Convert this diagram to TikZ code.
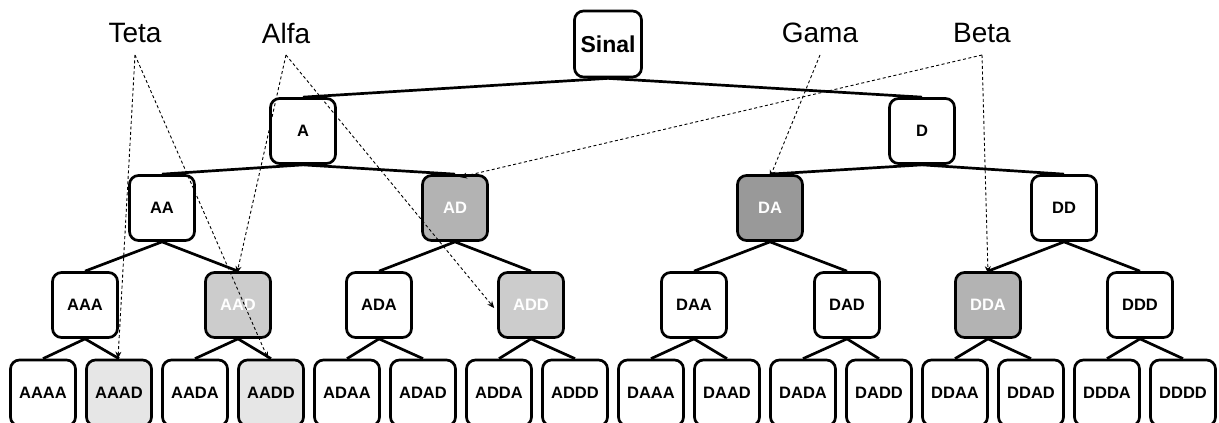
\documentclass[tikz,border=0pt]{standalone}
\usepackage{fontspec}
\setmainfont{Liberation Sans}
\usetikzlibrary{arrows.meta}
\definecolor{fillB}{HTML}{B3B3B3}
\definecolor{fillC}{HTML}{999999}
\definecolor{fillD}{HTML}{CCCCCC}
\definecolor{fillE}{HTML}{E6E6E6}
\tikzset{
  box/.style={draw=black, line width=2.7pt, rounded corners=9pt, fill=white,
    minimum width=65pt, minimum height=65pt, inner sep=0pt,
    font=\fontsize{16.5}{16.5}\selectfont\bfseries},
  leaf/.style={box, minimum height=66pt},
  dark/.style={fill=fillC, text=white},
  mid/.style={fill=fillB, text=white},
  light/.style={fill=fillD, text=white},
  pale/.style={fill=fillE},
  lab/.style={font=\fontsize{28}{28}\selectfont, inner sep=0pt},
  edge/.style={line width=2.7pt},
  pointer/.style={dashed, dash pattern=on 3pt off 2.5pt, line width=0.9pt, draw=black,
    -{Stealth[length=7pt,width=6pt]}}
}
\begin{document}
\begin{tikzpicture}[x=1pt,y=-1pt]
\useasboundingbox (0,0) rectangle (1219,423);
% labels
\node[lab] (teta) at (135,33) {Teta};
\node[lab] (alfa) at (286,33) {Alfa};
\node[lab] (gama) at (820,33) {Gama};
\node[lab] (beta) at (982,33) {Beta};
\coordinate (tetaP) at (135,55);
\coordinate (alfaP) at (286,55);
\coordinate (gamaP) at (820,55);
\coordinate (betaP) at (982,55);
% level 0
\node[box, minimum width=67pt, minimum height=66pt, font=\fontsize{23}{23}\selectfont\bfseries] (S) at (608,44) {Sinal};
% level 1
\node[box] (A) at (303,131) {A};
\node[box] (D) at (922,131) {D};
% level 2
\node[box] (AA) at (162,208) {AA};
\node[box, mid] (AD) at (455,208) {AD};
\node[box, dark] (DA) at (770,208) {DA};
\node[box] (DD) at (1064,208) {DD};
% level 3
\node[box] (AAA) at (85,305) {AAA};
\node[box, light] (AAD) at (238,305) {AAD};
\node[box] (ADA) at (379,305) {ADA};
\node[box, light] (ADD) at (531,305) {ADD};
\node[box] (DAA) at (694,305) {DAA};
\node[box] (DAD) at (847,305) {DAD};
\node[box, mid] (DDA) at (988,305) {DDA};
\node[box] (DDD) at (1140,305) {DDD};
% level 4
\node[leaf] (AAAA) at (43,393) {AAAA};
\node[leaf, pale] (AAAD) at (119,393) {AAAD};
\node[leaf] (AADA) at (195,393) {AADA};
\node[leaf, pale] (AADD) at (271,393) {AADD};
\node[leaf] (ADAA) at (347,393) {ADAA};
\node[leaf] (ADAD) at (423,393) {ADAD};
\node[leaf] (ADDA) at (499,393) {ADDA};
\node[leaf] (ADDD) at (575,393) {ADDD};
\node[leaf] (DAAA) at (651,393) {DAAA};
\node[leaf] (DAAD) at (727,393) {DAAD};
\node[leaf] (DADA) at (803,393) {DADA};
\node[leaf] (DADD) at (879,393) {DADD};
\node[leaf] (DDAA) at (955,393) {DDAA};
\node[leaf] (DDAD) at (1031,393) {DDAD};
\node[leaf] (DDDA) at (1107,393) {DDDA};
\node[leaf] (DDDD) at (1183,393) {DDDD};
% tree edges
\foreach \p/\c in {S/A,S/D,A/AA,A/AD,D/DA,D/DD,
  AA/AAA,AA/AAD,AD/ADA,AD/ADD,DA/DAA,DA/DAD,DD/DDA,DD/DDD,
  AAA/AAAA,AAA/AAAD,AAD/AADA,AAD/AADD,ADA/ADAA,ADA/ADAD,ADD/ADDA,ADD/ADDD,
  DAA/DAAA,DAA/DAAD,DAD/DADA,DAD/DADD,DDA/DDAA,DDA/DDAD,DDD/DDDA,DDD/DDDD}
  \draw[edge] (\p.south) -- (\c.north);
% pointers
\draw[pointer] (tetaP) -- ([xshift=-1pt]AAAD.north);
\draw[pointer] (tetaP) -- ([xshift=-3pt]AADD.north);
\draw[pointer] (alfaP) -- ([xshift=-1pt,yshift=-2pt]AAD.north);
\draw[pointer] (alfaP) -- ([xshift=-3pt,yshift=-3pt]ADD.west);
\draw[pointer] (gamaP) -- ([yshift=-3pt]DA.north);
\draw[pointer] (betaP) -- ([xshift=5pt,yshift=-3pt]AD.north);
\draw[pointer] (betaP) -- ([yshift=-2pt]DDA.north);
\end{tikzpicture}
\end{document}
